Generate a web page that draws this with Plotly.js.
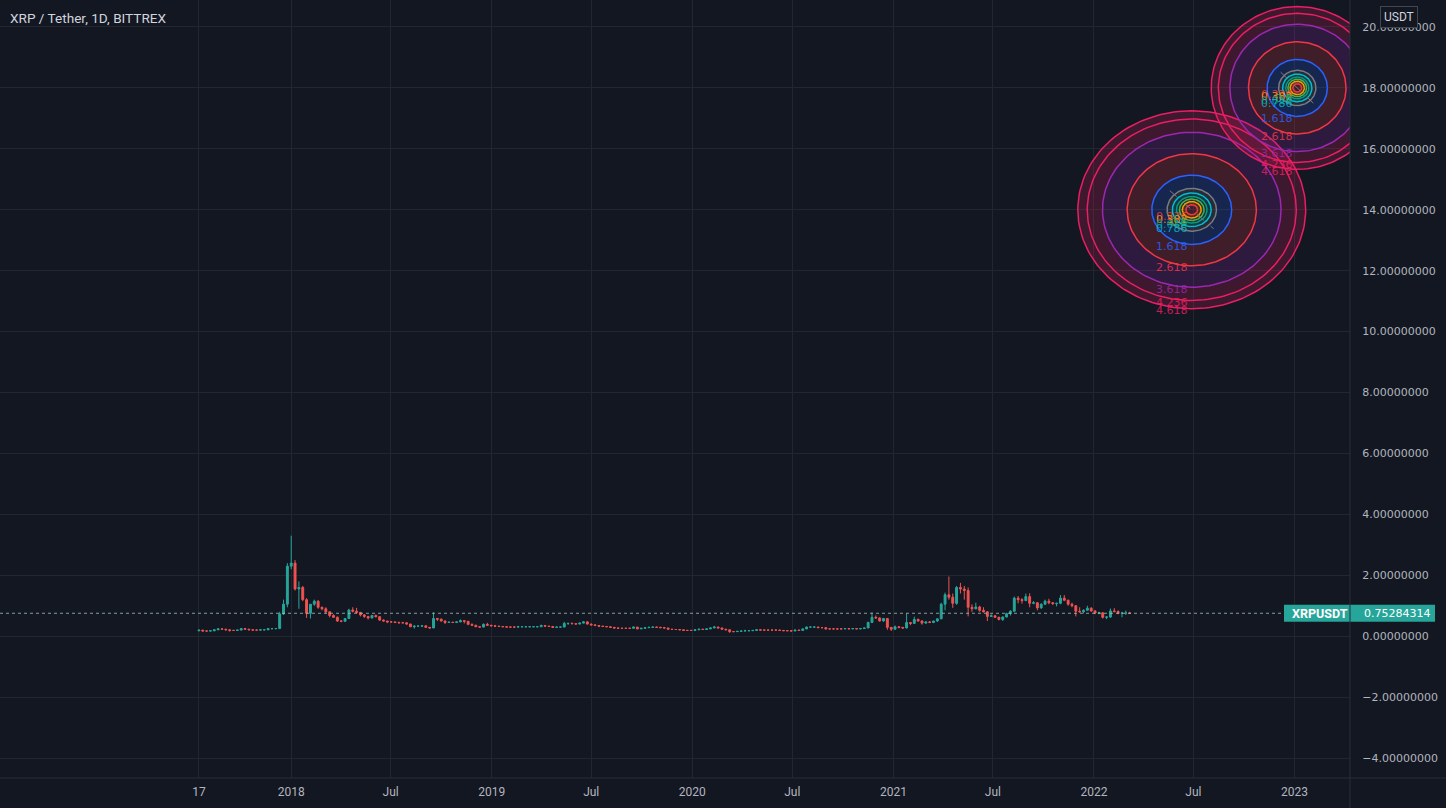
<!DOCTYPE html>
<html>
<head>
<meta charset="utf-8">
<script src="https://cdn.plot.ly/plotly-3.0.1.min.js"></script>
<style>
html,body{margin:0;padding:0;background:#131722;}
#chart{width:1446px;height:808px;}
</style>
</head>
<body>
<div id="chart"></div>
<script>
// ---------- DATA (weekly candles, [open, high, low, close]) ----------
const start2017 = '2017-07-17';
const w2017 = [[0.18,0.21,0.16,0.20],[0.20,0.20,0.17,0.17],[0.17,0.18,0.165,0.17],[0.17,0.19,0.165,0.175],[0.175,0.23,0.17,0.21],[0.21,0.26,0.20,0.24],[0.24,0.25,0.22,0.23],[0.23,0.24,0.19,0.21],[0.21,0.22,0.15,0.19],[0.19,0.20,0.18,0.19],[0.19,0.21,0.19,0.20],[0.20,0.26,0.20,0.25],[0.25,0.27,0.22,0.23],[0.23,0.24,0.20,0.21],[0.21,0.22,0.19,0.20],[0.20,0.21,0.19,0.20],[0.20,0.22,0.19,0.21],[0.21,0.22,0.20,0.21],[0.21,0.26,0.21,0.25],[0.25,0.26,0.22,0.25],[0.25,0.26,0.23,0.25],[0.25,0.80,0.25,0.73],[0.73,1.20,0.70,1.05],[1.05,2.40,0.95,2.30]];
const start2018 = '2018-01-01';
const w2018 = [[2.30,3.30,2.20,2.40],[2.40,2.50,1.50,1.55],[1.55,1.80,0.90,1.60],[1.60,1.65,1.15,1.20],[1.20,1.25,0.60,0.75],[0.75,1.05,0.58,1.05],[1.05,1.20,1.00,1.15],[1.15,1.18,0.90,0.95],[0.95,0.97,0.85,0.90],[0.90,0.95,0.75,0.80],[0.80,0.82,0.62,0.68],[0.68,0.72,0.60,0.62],[0.62,0.65,0.47,0.50],[0.50,0.52,0.46,0.49],[0.49,0.60,0.47,0.58],[0.58,0.90,0.58,0.86],[0.86,0.95,0.78,0.82],[0.82,0.93,0.75,0.78],[0.78,0.80,0.65,0.70],[0.70,0.72,0.60,0.65],[0.65,0.66,0.55,0.60],[0.60,0.70,0.58,0.68],[0.68,0.71,0.62,0.64],[0.64,0.66,0.50,0.53],[0.53,0.55,0.48,0.50],[0.50,0.50,0.43,0.47],[0.47,0.50,0.45,0.47],[0.47,0.48,0.43,0.45],[0.45,0.48,0.42,0.44],[0.44,0.47,0.43,0.44],[0.44,0.45,0.38,0.40],[0.40,0.41,0.30,0.31],[0.31,0.36,0.25,0.33],[0.33,0.35,0.32,0.33],[0.33,0.36,0.32,0.34],[0.34,0.36,0.28,0.29],[0.29,0.29,0.25,0.27],[0.27,0.78,0.27,0.58],[0.58,0.60,0.50,0.56],[0.56,0.58,0.48,0.50],[0.50,0.52,0.40,0.45],[0.45,0.48,0.44,0.46],[0.46,0.47,0.44,0.45],[0.45,0.48,0.44,0.47],[0.47,0.55,0.46,0.51],[0.51,0.53,0.42,0.49],[0.49,0.50,0.36,0.39],[0.39,0.42,0.35,0.36],[0.36,0.37,0.30,0.31],[0.31,0.32,0.28,0.30],[0.30,0.42,0.29,0.39],[0.39,0.44,0.35,0.36],[0.36,0.37,0.33,0.34]];
const start2019 = '2019-01-07';
const w2019 = [[0.34,0.37,0.31,0.33],[0.33,0.34,0.31,0.32],[0.32,0.33,0.30,0.31],[0.31,0.32,0.29,0.30],[0.30,0.31,0.28,0.30],[0.30,0.31,0.29,0.30],[0.30,0.34,0.30,0.31],[0.31,0.32,0.30,0.31],[0.31,0.32,0.30,0.31],[0.31,0.32,0.30,0.31],[0.31,0.32,0.30,0.31],[0.31,0.32,0.30,0.31],[0.31,0.38,0.31,0.35],[0.35,0.37,0.32,0.33],[0.33,0.34,0.32,0.32],[0.32,0.33,0.28,0.29],[0.29,0.31,0.29,0.30],[0.30,0.31,0.29,0.30],[0.30,0.47,0.30,0.42],[0.42,0.44,0.37,0.42],[0.42,0.45,0.40,0.41],[0.41,0.43,0.38,0.40],[0.40,0.44,0.39,0.43],[0.43,0.50,0.42,0.47],[0.47,0.49,0.38,0.40],[0.40,0.41,0.36,0.37],[0.37,0.40,0.34,0.35],[0.35,0.36,0.30,0.33],[0.33,0.34,0.30,0.32],[0.32,0.33,0.30,0.31],[0.31,0.32,0.28,0.29],[0.29,0.30,0.25,0.27],[0.27,0.28,0.25,0.26],[0.26,0.27,0.25,0.26],[0.26,0.27,0.25,0.26],[0.26,0.27,0.25,0.26],[0.26,0.32,0.26,0.30],[0.30,0.30,0.23,0.24],[0.24,0.27,0.24,0.26],[0.26,0.29,0.26,0.28],[0.28,0.31,0.28,0.29],[0.29,0.31,0.27,0.30],[0.30,0.31,0.28,0.29],[0.29,0.31,0.28,0.28],[0.28,0.29,0.26,0.27],[0.27,0.27,0.22,0.23],[0.23,0.24,0.21,0.22],[0.22,0.23,0.21,0.22],[0.22,0.23,0.21,0.21],[0.21,0.21,0.18,0.19],[0.19,0.20,0.19,0.19],[0.19,0.20,0.19,0.19]];
const start2020 = '2020-01-06';
const w2020 = [[0.19,0.22,0.19,0.21],[0.21,0.24,0.21,0.23],[0.23,0.24,0.21,0.22],[0.22,0.25,0.22,0.24],[0.24,0.28,0.24,0.27],[0.27,0.34,0.27,0.30],[0.30,0.31,0.26,0.27],[0.27,0.28,0.22,0.23],[0.23,0.24,0.21,0.21],[0.21,0.22,0.11,0.15],[0.15,0.17,0.14,0.15],[0.15,0.17,0.15,0.16],[0.16,0.18,0.16,0.17],[0.17,0.21,0.17,0.18],[0.18,0.19,0.17,0.18],[0.18,0.20,0.18,0.19],[0.19,0.23,0.19,0.21],[0.21,0.22,0.19,0.20],[0.20,0.21,0.18,0.20],[0.20,0.21,0.19,0.20],[0.20,0.21,0.19,0.20],[0.20,0.22,0.20,0.20],[0.20,0.21,0.18,0.19],[0.19,0.19,0.18,0.18],[0.18,0.19,0.17,0.18],[0.18,0.18,0.17,0.17],[0.17,0.21,0.17,0.20],[0.20,0.21,0.19,0.19],[0.19,0.25,0.19,0.24],[0.24,0.32,0.23,0.30],[0.30,0.31,0.28,0.30],[0.30,0.32,0.28,0.30],[0.30,0.31,0.27,0.28],[0.28,0.29,0.27,0.28],[0.28,0.30,0.22,0.24],[0.24,0.26,0.23,0.24],[0.24,0.25,0.23,0.24],[0.24,0.25,0.22,0.24],[0.24,0.25,0.23,0.24],[0.24,0.26,0.24,0.25],[0.25,0.26,0.24,0.24],[0.24,0.26,0.24,0.25],[0.25,0.26,0.24,0.24],[0.24,0.26,0.23,0.25],[0.25,0.28,0.25,0.27],[0.27,0.48,0.27,0.45],[0.45,0.78,0.45,0.62],[0.62,0.68,0.57,0.60],[0.60,0.62,0.48,0.50],[0.50,0.60,0.48,0.58],[0.58,0.60,0.21,0.29],[0.29,0.30,0.17,0.23]];
const start2021 = '2021-01-04';
const w2021 = [[0.23,0.35,0.21,0.31],[0.31,0.32,0.26,0.29],[0.29,0.30,0.25,0.27],[0.27,0.75,0.26,0.45],[0.45,0.46,0.36,0.42],[0.42,0.64,0.41,0.55],[0.55,0.58,0.48,0.50],[0.50,0.52,0.38,0.43],[0.43,0.48,0.41,0.47],[0.47,0.50,0.43,0.45],[0.45,0.50,0.43,0.50],[0.50,0.59,0.47,0.57],[0.57,1.10,0.56,1.05],[1.05,1.43,0.85,1.36],[1.36,1.96,1.20,1.28],[1.28,1.40,0.93,1.08],[1.08,1.65,1.03,1.60],[1.60,1.75,1.40,1.55],[1.55,1.65,1.20,1.50],[1.50,1.60,0.65,0.95],[0.95,1.05,0.80,0.90],[0.90,1.10,0.88,0.96],[0.96,1.00,0.80,0.85],[0.85,0.95,0.78,0.80],[0.80,0.82,0.50,0.65],[0.65,0.72,0.63,0.67],[0.67,0.70,0.60,0.62],[0.62,0.64,0.52,0.55],[0.55,0.65,0.50,0.63],[0.63,0.77,0.62,0.74],[0.74,0.85,0.68,0.82],[0.82,1.30,0.80,1.25],[1.25,1.32,1.08,1.20],[1.20,1.25,1.07,1.17],[1.17,1.40,1.15,1.30],[1.30,1.41,0.95,1.08],[1.08,1.15,1.05,1.10],[1.10,1.10,0.85,0.93],[0.93,1.08,0.90,1.05],[1.05,1.20,1.03,1.15],[1.15,1.23,1.05,1.10],[1.10,1.12,1.03,1.07],[1.07,1.10,0.98,1.08],[1.08,1.35,1.05,1.25],[1.25,1.35,1.15,1.18],[1.18,1.20,1.00,1.05],[1.05,1.10,0.95,1.00],[1.00,1.02,0.65,0.82],[0.82,0.95,0.78,0.80],[0.80,0.88,0.75,0.85],[0.85,1.00,0.85,0.92],[0.92,0.95,0.80,0.83]];
const start2022 = '2022-01-03';
const w2022 = [[0.83,0.85,0.72,0.76],[0.76,0.80,0.72,0.77],[0.77,0.79,0.58,0.62],[0.62,0.66,0.56,0.63],[0.63,0.91,0.60,0.83],[0.83,0.92,0.78,0.81],[0.81,0.85,0.72,0.75],[0.75,0.80,0.62,0.76],[0.76,0.84,0.70,0.76],[0.76,0.80,0.73,0.75284314]];

const symbolTitle = 'XRP / Tether, 1D, BITTREX';
const symbolName = 'XRPUSDT';
const quoteCurrency = 'USDT';

const xTickDates = ['2017-07-17','2018-01-01','2018-07-01','2019-01-01','2019-07-01','2020-01-01','2020-07-01','2021-01-01','2021-07-01','2022-01-01','2022-07-01','2023-01-01'];
const xTickLabels = ['17','2018','Jul','2019','Jul','2020','Jul','2021','Jul','2022','Jul','2023'];

// Fibonacci circle drawings (anchor centre and unit radius)
const fibLevels = [0.236,0.382,0.5,0.618,0.786,1,1.618,2.618,3.618,4.236,4.618];
const fibColors = ['#f23645','#ff9800','#4caf50','#089981','#00bcd4','#787b86','#2962ff','#f23645','#9c27b0','#e91e63','#e91e63'];
const fibLabelShown = [true,true,true,true,true,false,true,true,true,true,true];
const fibCenterDates = ['2022-06-28','2023-01-06'];
const fibCenterPrices = [14.0, 18.0];
const fibUnitDays = [44.9, 33.9];
const fibUnitPrice = [0.703, 0.578];

// ---------- BUILD ----------
const DAY = 86400000;
function toMs(s){ const p=s.split('-').map(Number); return Date.UTC(p[0],p[1]-1,p[2]); }
function msStr(ms){ const d=new Date(ms); const z=n=>String(n).padStart(2,'0');
  return d.getUTCFullYear()+'-'+z(d.getUTCMonth()+1)+'-'+z(d.getUTCDate())+' '+z(d.getUTCHours())+':'+z(d.getUTCMinutes())+':'+z(d.getUTCSeconds()); }

const groups = [[start2017,w2017],[start2018,w2018],[start2019,w2019],[start2020,w2020],[start2021,w2021],[start2022,w2022]];
const dates=[], open=[], high=[], low=[], close=[];
groups.forEach(([s,rows])=>{
  const t0 = toMs(s);
  rows.forEach((r,i)=>{ dates.push(msStr(t0+i*7*DAY)); open.push(r[0]); high.push(r[1]); low.push(r[2]); close.push(r[3]); });
});
const lastClose = close[close.length-1];

const traces = [];
const hexA = (hex,a)=>{ const n=parseInt(hex.slice(1),16); return 'rgba('+((n>>16)&255)+','+((n>>8)&255)+','+(n&255)+','+a+')'; };
const N = 160;
function ellipse(cms, cy, rxd, ry, reverse){
  const xs=[], ys=[];
  for(let k=0;k<=N;k++){
    const t = (reverse? -1:1)*2*Math.PI*k/N;
    xs.push(msStr(cms + Math.cos(t)*rxd*DAY));
    ys.push(cy + Math.sin(t)*ry);
  }
  return [xs,ys];
}
fibCenterDates.forEach((cd,j)=>{
  const cms = toMs(cd), cy = fibCenterPrices[j], ud = fibUnitDays[j], up = fibUnitPrice[j];
  for(let i=fibLevels.length-1;i>=0;i--){
    const L = fibLevels[i];
    const [ox,oy] = ellipse(cms,cy,L*ud,L*up,false);
    let xs=ox, ys=oy;
    if(i>0){
      const Li = fibLevels[i-1];
      const [ix,iy] = ellipse(cms,cy,Li*ud,Li*up,true);
      xs = ox.concat(ix); ys = oy.concat(iy);
    }
    traces.push({type:'scatter',mode:'none',x:xs,y:ys,fill:'toself',fillcolor:hexA(fibColors[i],0.2),hoverinfo:'skip',showlegend:false});
  }
  fibLevels.forEach((L,i)=>{
    const [xs,ys] = ellipse(cms,cy,L*ud,L*up,false);
    traces.push({type:'scatter',mode:'lines',x:xs,y:ys,line:{color:fibColors[i],width:1.5},hoverinfo:'skip',showlegend:false});
  });
  traces.push({type:'scatter',mode:'lines',x:[msStr(cms-0.89*ud*DAY),msStr(cms+0.89*ud*DAY)],y:[cy+0.89*up,cy-0.89*up],
    line:{color:'#787b86',width:1,dash:'dash'},hoverinfo:'skip',showlegend:false});
});

traces.push({
  type:'candlestick', x:dates, open:open, high:high, low:low, close:close,
  increasing:{line:{color:'#26a69a',width:1},fillcolor:'#26a69a'},
  decreasing:{line:{color:'#ef5350',width:1},fillcolor:'#ef5350'},
  whiskerwidth:0, hoverinfo:'skip', showlegend:false
});

const annotations = [];
fibCenterDates.forEach((cd,j)=>{
  fibLevels.forEach((L,i)=>{
    if(!fibLabelShown[i]) return;
    annotations.push({xref:'x',yref:'y',x:cd,y:fibCenterPrices[j]-L*fibUnitPrice[j],text:String(L),showarrow:false,
      xanchor:'right',yanchor:'middle',xshift:-2,yshift:-2,font:{family:'DejaVu Sans',size:11,color:hexA(fibColors[i],0.85)}});
  });
});
const axisEnd = 1350/1446;
annotations.push({xref:'paper',yref:'paper',x:8/1446,y:1-18/778,text:symbolTitle,showarrow:false,xanchor:'left',yanchor:'middle',
  font:{family:'Roboto',size:13.6,color:'#d1d4dc'}});
annotations.push({xref:'paper',yref:'paper',x:1399/1446,y:1-17/778,text:quoteCurrency,showarrow:false,xanchor:'center',yanchor:'middle',
  font:{family:'Roboto',size:12,color:'#d1d4dc'},bgcolor:'#131722',bordercolor:'#434651',borderwidth:1,borderpad:3});
annotations.push({xref:'paper',yref:'y',x:1290/1446,y:lastClose,text:'<b>'+symbolName+'</b>',showarrow:false,xanchor:'left',yanchor:'middle',
  font:{family:'Roboto',size:12.5,color:'#ffffff'}});
annotations.push({xref:'paper',yref:'y',x:1362/1446,y:lastClose,text:lastClose.toFixed(8),showarrow:false,xanchor:'left',yanchor:'middle',
  font:{family:'DejaVu Sans',size:11,color:'#ffffff'}});

const shapes = [
  {type:'line',xref:'paper',yref:'y',x0:0,x1:1284/1446,y0:lastClose,y1:lastClose,line:{color:'rgba(170,200,196,0.75)',width:1,dash:'dot'},layer:'above'},
  {type:'rect',xref:'paper',yref:'y',x0:1284/1446,x1:1435/1446,ysizemode:'pixel',yanchor:lastClose,y0:-8.5,y1:8.5,fillcolor:'#26a69a',line:{width:0},layer:'above'},
  {type:'line',xref:'paper',yref:'paper',x0:axisEnd,x1:axisEnd,y0:-30/778,y1:1,line:{color:'#2a2e39',width:1}},
  {type:'line',xref:'paper',yref:'paper',x0:0,x1:1,y0:0,y1:0,line:{color:'#2a2e39',width:1}}
];

const layout = {
  width:1446, height:808,
  paper_bgcolor:'#131722', plot_bgcolor:'#131722',
  margin:{l:0,r:0,t:0,b:30},
  showlegend:false,
  xaxis:{type:'date',domain:[0,axisEnd],range:['2016-07-20','2023-04-12'],
    tickmode:'array',tickvals:xTickDates,ticktext:xTickLabels,
    showgrid:true,gridcolor:'#22262f',gridwidth:1,zeroline:false,showline:false,
    ticks:'outside',ticklen:3,tickcolor:'rgba(0,0,0,0)',
    tickfont:{family:'Roboto',size:12,color:'#b2b5be'},
    rangeslider:{visible:false},fixedrange:true},
  yaxis:{side:'right',anchor:'x',range:[-4.655,20.886],tickmode:'linear',tick0:0,dtick:2,tickformat:'.8f',
    showgrid:true,gridcolor:'#22262f',gridwidth:1,zeroline:false,showline:false,
    ticks:'outside',ticklen:9,tickcolor:'rgba(0,0,0,0)',
    tickfont:{family:'DejaVu Sans',size:11,color:'#b2b5be'},fixedrange:true},
  annotations:annotations,
  shapes:shapes
};

Plotly.newPlot('chart',traces,layout,{displayModeBar:false,staticPlot:true});
</script>
</body>
</html>
